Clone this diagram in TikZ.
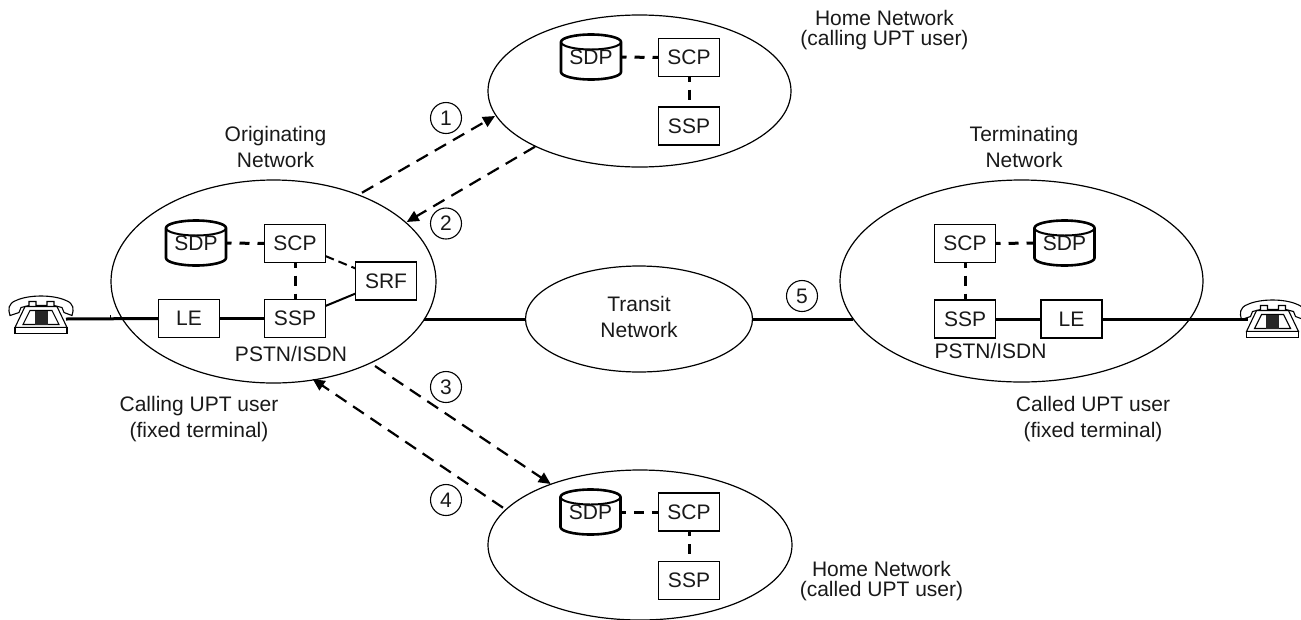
\documentclass[tikz,border=0pt]{standalone}
\usepackage{fontspec}
\setmainfont{Liberation Sans}
\usetikzlibrary{shapes.geometric,arrows.meta}
\tikzset{
  net/.style={draw,ellipse,line width=1.2pt,inner sep=0pt,outer sep=0pt},
  unit/.style={draw,line width=1.2pt,minimum width=61pt,minimum height=38pt,inner sep=0pt,outer sep=0pt,font=\fontsize{21}{25}\selectfont,text=black!90},
  store/.style={minimum width=61pt,minimum height=46pt,inner sep=0pt,outer sep=0pt,font=\fontsize{21}{25}\selectfont,text=black!90},
  lab/.style={align=center,inner sep=0pt,text=black!90},
  lab26/.style={lab,font=\fontsize{21}{26}\selectfont},
  lab20/.style={lab,font=\fontsize{21}{20}\selectfont},
  num/.style={draw,circle,line width=1.1pt,minimum size=31pt,inner sep=0pt,font=\fontsize{21}{25}\selectfont,text=black!90},
  trunk/.style={line width=3pt},
  link/.style={line width=3pt,dash pattern=on 10pt off 8pt,dash phase=5pt},
  thinlink/.style={line width=2pt},
  flow/.style={line width=2.2pt,dash pattern=on 13pt off 8pt,-{Triangle[length=12pt,width=11pt]}}
}
\newcommand{\phone}[2]{%
  \begin{scope}[shift={(#1,#2)}]
    \draw[line width=1.1pt,fill=white] (-25,-14) .. controls (-33,-11) and (-33,-5) .. (-31,1)
      -- (-22,-2) -- (-20,-7) -- (-12,-9) -- (-12,-13) -- (-5,-13) -- (-5,-9) -- (6,-9) -- (6,-13) -- (13,-13) -- (13,-9) -- (21,-7) -- (23,-2) -- (31,1)
      .. controls (33,-5) and (33,-11) .. (25,-14) .. controls (12,-20) and (-12,-20) .. (-25,-14) -- cycle;
    \draw[line width=1.1pt,fill=white] (-16,-8) -- (16,-8) -- (26,13) -- (-26,13) -- cycle;
    \draw[line width=1.1pt,fill=white] (-26,13) rectangle (26,19);
    \draw[line width=1.1pt,fill=white] (-11,-4) -- (11,-4) -- (18,10) -- (-18,10) -- cycle;
    \fill[black!85] (-6.5,-4) rectangle (6.5,10);
  \end{scope}}
\newcommand{\drum}[3]{%
  \draw[line width=2.6pt,fill=white] (#2-30,#3-15) arc[start angle=180,end angle=360,x radius=30,y radius=7.5]
    -- (#2+30,#3+15) arc[start angle=0,end angle=180,x radius=30,y radius=7.5] -- cycle;
  \draw[line width=2pt] (#2-30,#3-15) arc[start angle=180,end angle=0,x radius=30,y radius=7.5];
  \node[store] (#1) at (#2,#3) {\raisebox{-4pt}{SDP}};}
\begin{document}
\begin{tikzpicture}[x=1pt,y=-1pt]
\useasboundingbox (0,0) rectangle (1301,619);
% networks
\node[net,minimum width=303pt,minimum height=152pt] (homeA) at (639.5,91) {};
\node[net,minimum width=325pt,minimum height=203pt] (orig) at (273.5,281.5) {};
\node[net,minimum width=227pt,minimum height=106pt] (transit) at (639,319) {};
\node[lab26] (ttransit) at (639,316.5) {Transit\\Network};
\node[net,minimum width=363pt,minimum height=202pt] (term) at (1021.5,281) {};
\node[net,minimum width=304pt,minimum height=150pt] (homeB) at (640,545) {};
% phones
\phone{41}{314.5}
\phone{1272.5}{318.5}
\coordinate (phoneL) at (66,319);
\coordinate (phoneR) at (1248,319);
\coordinate (origE) at (423.5,319);
\coordinate (termW) at (853,319);
\coordinate (stubA) at (110,319);
\coordinate (stubB) at (110,315);
% originating
\drum{osdp}{196}{243}
\node[unit] (oscp) at (295,243.5) {SCP};
\node[unit] (ossp) at (295,318.5) {SSP};
\node[unit] (ole) at (189,318.5) {LE};
\node[unit] (osrf) at (386,281) {SRF};
% terminating
\node[unit] (tscp) at (965,243.5) {SCP};
\node[unit] (tssp) at (965,319) {SSP};
\node[unit] (tle) at (1071.5,319) {LE};
\drum{tsdp}{1064.5}{243}
% home A
\drum{asdp}{591}{57}
\node[unit] (ascp) at (689,57.5) {SCP};
\node[unit] (assp) at (689,126) {SSP};
% home B
\drum{bsdp}{590.5}{512}
\node[unit] (bscp) at (689,512) {SCP};
\node[unit] (bssp) at (689,580.5) {SSP};
% connectors
\draw[trunk] (phoneL) -- (ole.west);
\draw[line width=1pt] (stubA) -- (stubB);
\draw[trunk] (ole) -- (ossp);
\draw[trunk] (origE) -- (transit.west);
\draw[trunk] (transit.east) -- (termW);
\draw[trunk] (tssp) -- (tle);
\draw[trunk] (tle.east) -- (phoneR);
\draw[link] (osdp.east) -- (oscp.west);
\draw[link] (oscp) -- (ossp);
\draw[thinlink,dash pattern=on 9pt off 5pt] (oscp) -- (osrf);
\draw[thinlink] (ossp) -- (osrf);
\draw[link] (tscp) -- (tssp);
\draw[link] (tscp.east) -- (tsdp.west);
\draw[link] (asdp.east) -- (ascp.west);
\draw[link] (ascp) -- (assp);
\draw[link] (bsdp.east) -- (bscp.west);
\draw[link] (bscp) -- (bssp);
% flows
\coordinate (f1s) at (362,192.7); \coordinate (f1e) at (495,116);
\coordinate (f2s) at (535,146.7); \coordinate (f2e) at (406.7,222);
\coordinate (f3s) at (375,366);   \coordinate (f3e) at (550.7,484);
\coordinate (f4s) at (503,507.7); \coordinate (f4e) at (312.7,379);
\draw[flow] (f1s) -- (f1e);
\draw[flow] (f2s) -- (f2e);
\draw[flow] (f3s) -- (f3e);
\draw[flow] (f4s) -- (f4e);
\node[num] (n1) at (446,118) {1};
\node[num] (n2) at (446,223.5) {2};
\node[num] (n3) at (446,387) {3};
\node[num] (n4) at (446,500) {4};
\node[num] (n5) at (802,296) {5};
% labels
\node[lab26] (torig) at (275.5,146.5) {Originating\\Network};
\node[lab26] (tterm) at (1024,146.5) {Terminating\\Network};
\node[lab26] (pl) at (291,353.5) {PSTN/ISDN};
\node[lab26] (pr) at (990.5,351) {PSTN/ISDN};
\node[lab20] (thomeA) at (884.5,30) {Home Network\\(calling UPT user)};
\node[lab26] (tcall) at (199,419) {Calling UPT user\\(fixed terminal)};
\node[lab26] (tcalled) at (1093,419.5) {Called UPT user\\(fixed terminal)};
\node[lab20] (thomeB) at (881.5,581) {Home Network\\(called UPT user)};
\end{tikzpicture}
\end{document}
